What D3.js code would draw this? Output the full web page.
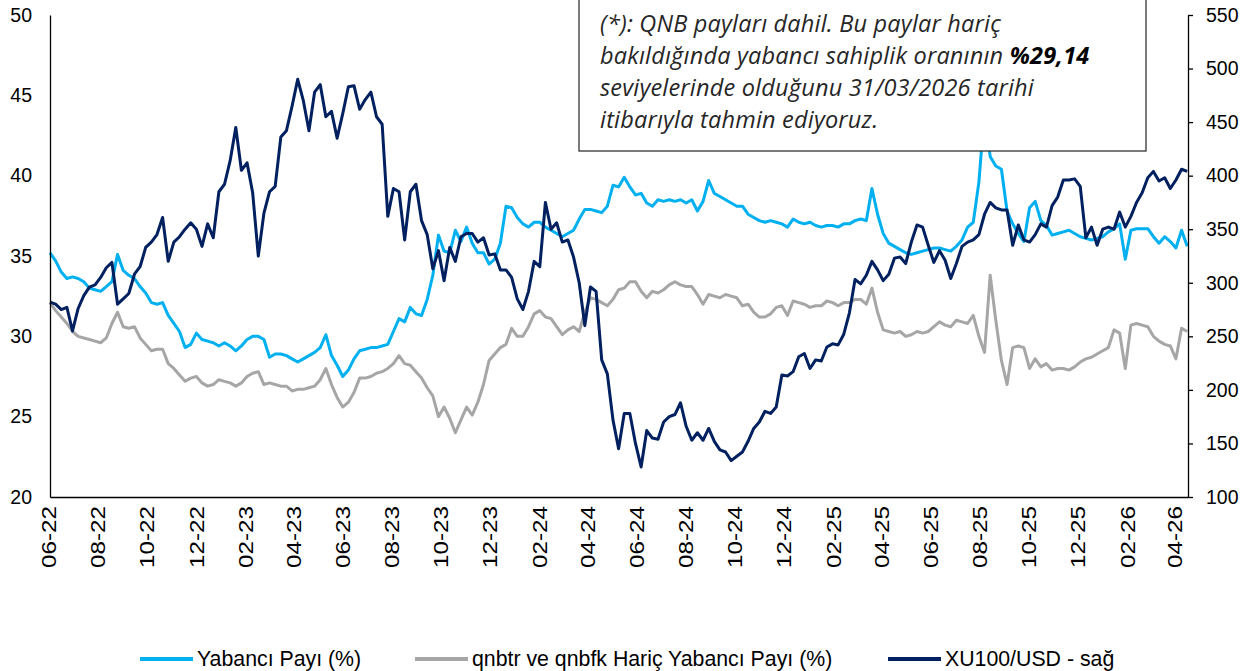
<!DOCTYPE html>
<html>
<head>
<meta charset="utf-8">
<script src="https://cdn.jsdelivr.net/npm/d3@7"></script>
<style>
  body { margin: 0; background: #fff; }
  svg { display: block; }
  .axis text { font-family: "Liberation Sans", Arial, sans-serif; fill: #000; }
  .note { font-family: "Open Sans", Lato, sans-serif; font-style: italic; fill: #262626; letter-spacing: 0.2px; }
</style>
</head>
<body>
<svg></svg>
<script>
var width = 1255
var height = 671

// weekly observations, first one on 1 June 2022
var firstDate = new Date(2022, 5, 1)

var yabanciPayi = [
  35.2, 34.7, 34.0, 33.6, 33.7, 33.6, 33.4, 33.0, 32.9, 32.8, 33.1, 33.4, 35.1, 34.1, 33.8, 33.6, 33.1, 32.7, 32.1, 32.0,
  32.1, 31.3, 30.8, 30.3, 29.3, 29.5, 30.2, 29.8, 29.7, 29.6, 29.4, 29.6, 29.4, 29.1, 29.4, 29.8, 30.0, 30.0, 29.8, 28.7,
  28.9, 28.9, 28.8, 28.6, 28.4, 28.6, 28.8, 29.0, 29.3, 30.1, 28.8, 28.2, 27.5, 27.9, 28.6, 29.1, 29.2, 29.3, 29.3, 29.4,
  29.5, 30.3, 31.1, 30.9, 31.8, 31.4, 31.3, 32.3, 33.8, 36.3, 35.3, 35.2, 36.6, 35.9, 36.8, 35.8, 35.2, 35.2, 34.5, 34.8,
  35.8, 38.1, 38.0, 37.4, 37.0, 36.8, 37.1, 37.1, 36.8, 36.6, 36.4, 36.2, 36.4, 36.6, 37.3, 37.9, 37.9, 37.8, 37.7, 38.1,
  39.4, 39.3, 39.9, 39.3, 38.8, 38.9, 38.3, 38.1, 38.5, 38.4, 38.5, 38.4, 38.5, 38.3, 38.5, 37.8, 38.4, 39.7, 38.9, 38.7,
  38.5, 38.3, 38.1, 38.1, 37.6, 37.4, 37.2, 37.1, 37.2, 37.1, 37.0, 36.8, 37.3, 37.1, 37.0, 37.1, 36.9, 36.8, 36.9, 36.9,
  36.8, 37.0, 37.0, 37.2, 37.3, 37.2, 39.2, 37.6, 36.4, 35.8, 35.6, 35.4, 35.2, 35.1, 35.2, 35.3, 35.4, 35.5, 35.5, 35.4,
  35.3, 35.6, 36.0, 36.8, 37.1, 39.6, 44.0, 41.2, 40.6, 40.4, 37.8, 37.0, 36.4, 35.9, 38.0, 38.4, 37.2, 36.9, 36.3, 36.4,
  36.5, 36.6, 36.4, 36.2, 36.1, 36.0, 36.1, 36.2, 36.5, 36.7, 37.0, 34.8, 36.6, 36.7, 36.7, 36.7, 36.2, 35.8, 36.2, 35.9,
  35.5, 36.6, 35.6
]

var haricPayi = [
  32.1, 31.6, 31.2, 30.8, 30.3, 30.0, 29.9, 29.8, 29.7, 29.6, 29.9, 30.8, 31.5, 30.6, 30.5, 30.6, 29.9, 29.5, 29.1, 29.2,
  29.2, 28.3, 28.0, 27.6, 27.2, 27.4, 27.5, 27.1, 26.9, 27.0, 27.3, 27.2, 27.1, 26.9, 27.1, 27.5, 27.7, 27.8, 27.0, 27.1,
  27.0, 26.9, 26.9, 26.6, 26.7, 26.7, 26.8, 26.9, 27.3, 28.0, 27.0, 26.2, 25.6, 25.9, 26.5, 27.4, 27.4, 27.5, 27.7, 27.8,
  28.0, 28.3, 28.8, 28.3, 28.2, 27.8, 27.4, 26.8, 26.3, 25.0, 25.6, 24.9, 24.0, 24.8, 25.6, 25.1, 25.9, 27.0, 28.5, 28.9,
  29.3, 29.5, 30.5, 30.0, 30.0, 30.6, 31.4, 31.6, 31.2, 31.1, 30.6, 30.1, 30.4, 30.6, 30.3, 31.5, 32.4, 32.3, 32.1, 31.9,
  32.3, 32.9, 33.0, 33.4, 33.4, 32.8, 32.4, 32.8, 32.7, 32.9, 33.2, 33.4, 33.2, 33.1, 33.1, 32.6, 32.0, 32.6, 32.5, 32.4,
  32.6, 32.5, 32.4, 31.9, 32.0, 31.5, 31.2, 31.2, 31.4, 31.8, 31.9, 31.3, 32.2, 32.1, 32.0, 31.8, 31.9, 31.9, 32.2, 32.1,
  31.9, 32.1, 32.1, 32.3, 32.3, 32.0, 33.0, 31.5, 30.4, 30.3, 30.2, 30.3, 30.0, 30.1, 30.3, 30.2, 30.3, 30.6, 30.9, 30.7,
  30.6, 31.0, 30.9, 30.8, 31.3, 30.0, 29.0, 33.8, 31.0, 28.5, 27.0, 29.3, 29.4, 29.3, 28.0, 28.6, 28.1, 28.3, 27.9, 28.0,
  28.0, 27.9, 28.1, 28.4, 28.6, 28.7, 28.9, 29.1, 29.3, 30.4, 30.2, 28.0, 30.7, 30.8, 30.7, 30.6, 30.0, 29.7, 29.5, 29.4,
  28.6, 30.5, 30.3
]

var xu100usd = [
  282, 280, 275, 277, 255, 276, 288, 296, 298, 305, 314, 319, 280, 285, 290, 308, 315, 333, 338, 345,
  361, 320, 338, 343, 350, 356, 350, 334, 355, 342, 385, 392, 414, 445, 405, 412, 384, 325, 365, 385,
  390, 436, 442, 465, 490, 470, 442, 478, 485, 455, 460, 435, 458, 483, 484, 462, 471, 478, 455, 448,
  362, 388, 385, 340, 385, 392, 358, 345, 313, 330, 302, 333, 320, 343, 346, 346, 338, 342, 326, 327,
  312, 312, 305, 285, 275, 292, 320, 315, 375, 350, 356, 338, 340, 324, 300, 260, 296, 292, 228, 215,
  172, 145, 178, 178, 150, 128, 162, 155, 154, 170, 175, 177, 188, 166, 153, 160, 153, 164, 152, 144,
  142, 134, 138, 142, 152, 164, 170, 180, 178, 184, 214, 213, 217, 231, 234, 220, 228, 227, 240, 243,
  242, 252, 272, 303, 299, 307, 320, 312, 302, 308, 323, 324, 318, 338, 354, 352, 335, 319, 330, 321,
  304, 318, 334, 338, 340, 345, 364, 375, 370, 368, 368, 335, 354, 340, 338, 345, 355, 352, 372, 380,
  396, 396, 397, 390, 342, 352, 335, 350, 352, 350, 366, 352, 362, 375, 384, 398, 404, 395, 398, 388,
  396, 406, 404
]

var seriesNames = ['Yabancı Payı (%)', 'qnbtr ve qnbfk Hariç Yabancı Payı (%)', 'XU100/USD - sağ']
var seriesColors = ['#00B0F0', '#A6A6A6', '#002060']

var leftTicks = [20, 25, 30, 35, 40, 45, 50]
var rightTicks = [100, 150, 200, 250, 300, 350, 400, 450, 500, 550]

// each line: [regular text, bold text]
var noteLines = [
  ['(*): QNB payları dahil. Bu paylar hariç', ''],
  ['bakıldığında yabancı sahiplik oranının ', '%29,14'],
  ['seviyelerinde olduğunu 31/03/2026 tarihi', ''],
  ['itibarıyla tahmin ediyoruz.', '']
]

var dates = yabanciPayi.map(function(v, i) {return d3.timeDay.offset(firstDate, i * 7)})

var svg = d3.select('svg').attr('width', width).attr('height', height)

var plotLeft = 50, plotRight = 1188, plotTop = 15, plotBottom = 497

var x = d3.scaleTime()
  .domain([new Date(2022, 5, 1), new Date(2026, 3, 16)])
  .range([plotLeft, plotRight])
var yLeft = d3.scaleLinear().domain([20, 50]).range([plotBottom, plotTop])
var yRight = d3.scaleLinear().domain([100, 550]).range([plotBottom, plotTop])

// lines: grey first, light blue, navy on top
function drawLine(values, scale, color) {
  var line = d3.line()
    .x(function(d, i) {return x(dates[i])})
    .y(function(d) {return scale(d)})
  svg.append('path')
    .datum(values)
    .attr('d', line)
    .attr('fill', 'none')
    .attr('stroke', color)
    .attr('stroke-width', 3)
    .attr('stroke-linejoin', 'round')
}
drawLine(haricPayi, yLeft, seriesColors[1])
drawLine(yabanciPayi, yLeft, seriesColors[0])
drawLine(xu100usd, yRight, seriesColors[2])

// axes
var leftAxis = svg.append('g').attr('class', 'axis')
  .attr('transform', 'translate(' + plotLeft + ',0)')
  .call(d3.axisLeft(yLeft).tickValues(leftTicks).tickSize(0).tickPadding(18))
leftAxis.select('.domain').attr('stroke', '#000').attr('stroke-width', 1.3)
leftAxis.selectAll('text').attr('font-size', 19.5)

var rightAxis = svg.append('g').attr('class', 'axis')
  .attr('transform', 'translate(' + plotRight + ',0)')
  .call(d3.axisRight(yRight).tickValues(rightTicks).tickSize(5).tickSizeOuter(0).tickPadding(13))
rightAxis.select('.domain').attr('stroke', '#000').attr('stroke-width', 1.3)
rightAxis.selectAll('line').attr('stroke', '#000').attr('stroke-width', 1.3)
rightAxis.selectAll('text').attr('font-size', 19.5)

var monthTicks = d3.timeMonth.range(new Date(2022, 5, 1), new Date(2026, 3, 16))
  .filter(function(d) {return d.getMonth() % 2 === 1})
var bottomAxis = svg.append('g').attr('class', 'axis')
  .attr('transform', 'translate(0,' + plotBottom + ')')
  .call(d3.axisBottom(x).tickValues(monthTicks).tickFormat(d3.timeFormat('%m-%y')).tickSize(0).tickSizeOuter(0))
bottomAxis.select('.domain').attr('stroke', '#000').attr('stroke-width', 1.3)
bottomAxis.selectAll('text')
  .attr('font-size', 19.5)
  .attr('transform', 'rotate(-90)')
  .attr('text-anchor', 'end')
  .attr('x', -9)
  .attr('y', -1)
  .attr('dy', '0.35em')
  .attr('textLength', 62)
  .attr('lengthAdjust', 'spacingAndGlyphs')

// note box
svg.append('rect')
  .attr('x', 579).attr('y', -2)
  .attr('width', 567).attr('height', 153)
  .attr('fill', '#fff')
  .attr('stroke', '#333')
  .attr('stroke-width', 1.3)

var note = svg.append('text').attr('class', 'note').attr('font-size', 23.5)
noteLines.forEach(function(parts, i) {
  note.append('tspan').attr('x', 600).attr('y', 32 + i * 32).text(parts[0])
  if (parts[1]) {
    note.append('tspan').attr('font-weight', 'bold').attr('fill', '#000').text(parts[1])
  }
})

// legend
var legendX = [140, 415, 888]
var legend = svg.append('g')
seriesNames.forEach(function(name, i) {
  legend.append('line')
    .attr('x1', legendX[i]).attr('x2', legendX[i] + 53)
    .attr('y1', 659).attr('y2', 659)
    .attr('stroke', seriesColors[i]).attr('stroke-width', 4)
  legend.append('text')
    .attr('x', legendX[i] + 57).attr('y', 666)
    .attr('font-family', '"Liberation Sans", Arial, sans-serif')
    .attr('font-size', 21.3)
    .text(name)
})
</script>
</body>
</html>
